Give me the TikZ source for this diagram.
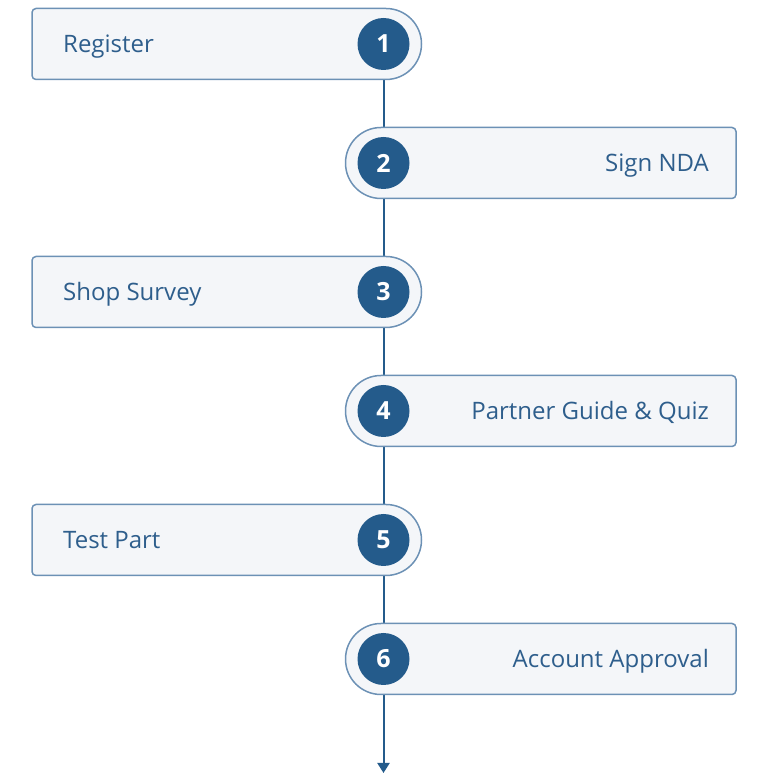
\documentclass[tikz,border=0pt]{standalone}
\usepackage{fontspec}
\setmainfont{Open Sans}
\usepackage{tikz}
\usetikzlibrary{arrows.meta, backgrounds}
\definecolor{StepBlue}{HTML}{245B8B}
\definecolor{BoxLine}{HTML}{6C91B5}
\definecolor{BoxFill}{HTML}{F4F6F9}
\definecolor{TextBlue}{HTML}{2E5E8C}

\tikzset{
  box/.style={draw=BoxLine, fill=BoxFill, line width=1.5pt},
  num/.style={circle, fill=StepBlue, text=white, minimum size=52pt, inner sep=0pt, font=\fontsize{25}{30}\selectfont\bfseries},
  steptext/.style={text=TextBlue, inner sep=0pt, font=\fontsize{24}{29}\selectfont},
  link/.style={draw=StepBlue, line width=2pt},
}

% boxes with a round end on the line side
\newcommand{\stepleft}[1]{\draw[box] (386,#1+35.5) -- (36,#1+35.5) arc (90:180:4) -- (32,#1-31.5) arc (180:270:4) -- (386,#1-35.5) arc (-90:90:35.5) -- cycle;}
\newcommand{\stepright}[1]{\draw[box] (381,#1+35.5) -- (732,#1+35.5) arc (90:0:4) -- (736,#1-31.5) arc (0:-90:4) -- (381,#1-35.5) arc (270:90:35.5) -- cycle;}

\begin{document}
\begin{tikzpicture}[x=1pt, y=1pt]
  \useasboundingbox (0,0) rectangle (768,780);

  \stepleft{736}
  \stepright{617}
  \stepleft{488}
  \stepright{369}
  \stepleft{240}
  \stepright{121}

  \node[num] (c1) at (383.5,736) {1};
  \node[num] (c2) at (383.5,617) {2};
  \node[num] (c3) at (383.5,488) {3};
  \node[num] (c4) at (383.5,369) {4};
  \node[num] (c5) at (383.5,240) {5};
  \node[num] (c6) at (383.5,121) {6};
  \coordinate (end) at (383.5,7);

  \node[steptext, anchor=base west] (t1) at (63,727.5) {Register};
  \node[steptext, anchor=base east] (t2) at (709,608.5) {Sign NDA};
  \node[steptext, anchor=base west] (t3) at (63,479.5) {Shop Survey};
  \node[steptext, anchor=base east] (t4) at (709,360.5) {Partner Guide \& Quiz};
  \node[steptext, anchor=base west] (t5) at (63,231.5) {Test Part};
  \node[steptext, anchor=base east] (t6) at (709,112.5) {Account Approval};

  \begin{scope}[on background layer]
    \draw[link] (c1) -- (c2);
    \draw[link] (c2) -- (c3);
    \draw[link] (c3) -- (c4);
    \draw[link] (c4) -- (c5);
    \draw[link] (c5) -- (c6);
    \draw[link, -{Triangle[width=12pt, length=10pt]}] (c6) -- (end);
  \end{scope}

\end{tikzpicture}
\end{document}
